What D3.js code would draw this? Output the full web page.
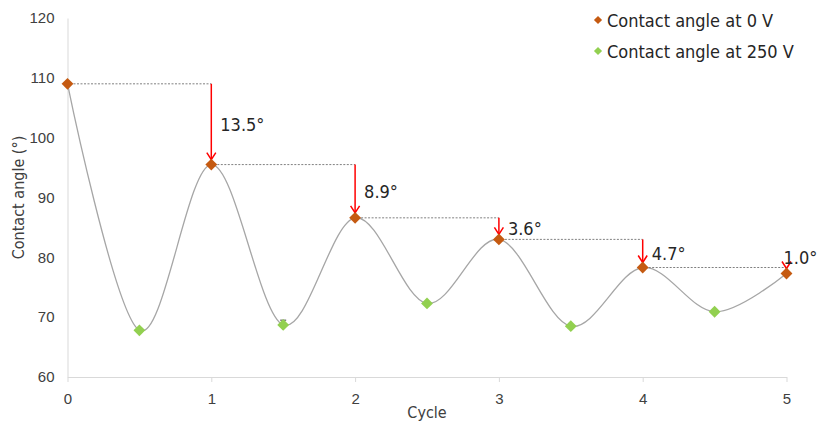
<!DOCTYPE html>
<html>
<head>
<meta charset="utf-8">
<script src="https://cdn.jsdelivr.net/npm/d3@7"></script>
<style>
  html, body { margin: 0; padding: 0; background: #fff; }
  svg { display: block; font-family: "DejaVu Sans Condensed", "DejaVu Sans", sans-serif; font-stretch: condensed; }
</style>
</head>
<body>
<svg id="chart" width="817" height="423"></svg>
<script>
// Contact angle measured at 0 V (whole cycles) and 250 V (half cycles)
const cycles0V = [0, 1, 2, 3, 4, 5];
const angle0V = [109, 95.5, 86.6, 83.0, 78.3, 77.3];
const cycles250V = [0.5, 1.5, 2.5, 3.5, 4.5];
const angle250V = [67.8, 68.7, 72.3, 68.5, 70.9];
const error250V = [0, 0.8, 0, 0, 0];
// Drop in contact angle between successive 0 V measurements
const dropLabels = ["13.5°", "8.9°", "3.6°", "4.7°", "1.0°"];
const xTicks = [0, 1, 2, 3, 4, 5];
const yTicks = [60, 70, 80, 90, 100, 110, 120];
const seriesNames = ["Contact angle at 0 V", "Contact angle at 250 V"];

const colOrange = "#c55a11";
const colGreen = "#92d050";
const textCol = "#404040";

const svg = d3.select("#chart");
const x = d3.scaleLinear().domain([0, 5]).range([67.5, 786.5]);
const y = d3.scaleLinear().domain([60, 120]).range([377, 18]);

// Axes
const xAxis = svg.append("g").attr("transform", `translate(0,${y(60)})`)
  .call(d3.axisBottom(x).tickValues(xTicks).tickFormat(d3.format("d")).tickSize(5).tickSizeOuter(0));
xAxis.select(".domain").attr("stroke", "#d9d9d9");
xAxis.selectAll(".tick line").attr("stroke", "#d9d9d9");
xAxis.selectAll(".tick text").attr("fill", textCol).attr("font-size", 15).attr("dy", "1.25em")
  .attr("font-family", null);

const yAxis = svg.append("g").attr("transform", `translate(${x(0)},0)`)
  .call(d3.axisLeft(y).tickValues(yTicks).tickSize(0).tickPadding(13));
yAxis.select(".domain").attr("stroke", "#d9d9d9");
yAxis.selectAll(".tick text").attr("fill", textCol).attr("font-size", 15).attr("font-family", null);

// Axis titles
svg.append("text").attr("x", (x(0) + x(5)) / 2).attr("y", 418)
  .attr("text-anchor", "middle").attr("fill", textCol).attr("font-size", 16).text("Cycle");
svg.append("text").attr("transform", `translate(24,${y(90)}) rotate(-90)`)
  .attr("text-anchor", "middle").attr("fill", textCol).attr("font-size", 16).text("Contact angle (°)");

// Smoothed connecting line through all measurements in cycle order
const allPts = cycles0V.map((c, i) => [c, angle0V[i]])
  .concat(cycles250V.map((c, i) => [c, angle250V[i]]))
  .sort((a, b) => a[0] - b[0]);
svg.append("path").datum(allPts)
  .attr("fill", "none").attr("stroke", "#a6a6a6").attr("stroke-width", 1.3)
  .attr("d", d3.line().x(d => x(d[0])).y(d => y(d[1])).curve(d3.curveCatmullRom.alpha(0)));

// Dotted guides and red arrows showing each drop
const ann = svg.append("g");
for (let i = 1; i < cycles0V.length; i++) {
  const prev = angle0V[i - 1], cur = angle0V[i];
  const x0 = x(cycles0V[i - 1]), x1 = x(cycles0V[i]);
  ann.append("line").attr("x1", x0 + 6).attr("x2", x1).attr("y1", y(prev)).attr("y2", y(prev))
    .attr("stroke", "#808080").attr("stroke-width", 1).attr("stroke-dasharray", "2,1.5");
  const yTop = y(prev), yTip = y(cur) - 5;
  ann.append("line").attr("x1", x1).attr("x2", x1).attr("y1", yTop).attr("y2", yTip)
    .attr("stroke", "#ff0000").attr("stroke-width", 1.5);
  ann.append("path").attr("d", `M${x1 - 4.5},${yTip - 7}L${x1},${yTip}L${x1 + 4.5},${yTip - 7}`)
    .attr("fill", "none").attr("stroke", "#ff0000").attr("stroke-width", 1.5);
  const last = i === cycles0V.length - 1;
  ann.append("text")
    .attr("x", last ? x1 - 3 : x1 + 9)
    .attr("y", last ? yTop - 4 : (yTop + yTip) / 2 + 9)
    .attr("fill", "#262626").attr("font-size", 18).text(dropLabels[i - 1]);
}

// Error bar and markers
const diamond = d3.symbol().type(d3.symbolSquare).size(70);
svg.append("g").selectAll("g").data(cycles250V.map((c, i) => [c, angle250V[i], error250V[i]]).filter(d => d[2] > 0))
  .join("g").each(function (d) {
    const g = d3.select(this);
    g.append("line").attr("x1", x(d[0])).attr("x2", x(d[0])).attr("y1", y(d[1] + d[2])).attr("y2", y(d[1] - d[2]))
      .attr("stroke", "#404040").attr("stroke-width", 1);
    g.append("line").attr("x1", x(d[0]) - 3).attr("x2", x(d[0]) + 3).attr("y1", y(d[1] + d[2])).attr("y2", y(d[1] + d[2]))
      .attr("stroke", "#404040").attr("stroke-width", 1);
  });
svg.append("g").selectAll("path").data(cycles250V.map((c, i) => [c, angle250V[i]]))
  .join("path").attr("d", diamond)
  .attr("transform", d => `translate(${x(d[0])},${y(d[1])}) rotate(45)`).attr("fill", colGreen);
svg.append("g").selectAll("path").data(cycles0V.map((c, i) => [c, angle0V[i]]))
  .join("path").attr("d", diamond)
  .attr("transform", d => `translate(${x(d[0])},${y(d[1])}) rotate(45)`).attr("fill", colOrange);

// Legend
const legend = svg.append("g").attr("transform", "translate(598,20)");
[colOrange, colGreen].forEach((c, i) => {
  legend.append("path").attr("d", d3.symbol().type(d3.symbolSquare).size(34))
    .attr("transform", `translate(0,${i * 31}) rotate(45)`).attr("fill", c);
  legend.append("text").attr("x", 9).attr("y", i * 31 + 6.5).attr("fill", "#262626")
    .attr("font-size", 18).text(seriesNames[i]);
});
</script>
</body>
</html>
